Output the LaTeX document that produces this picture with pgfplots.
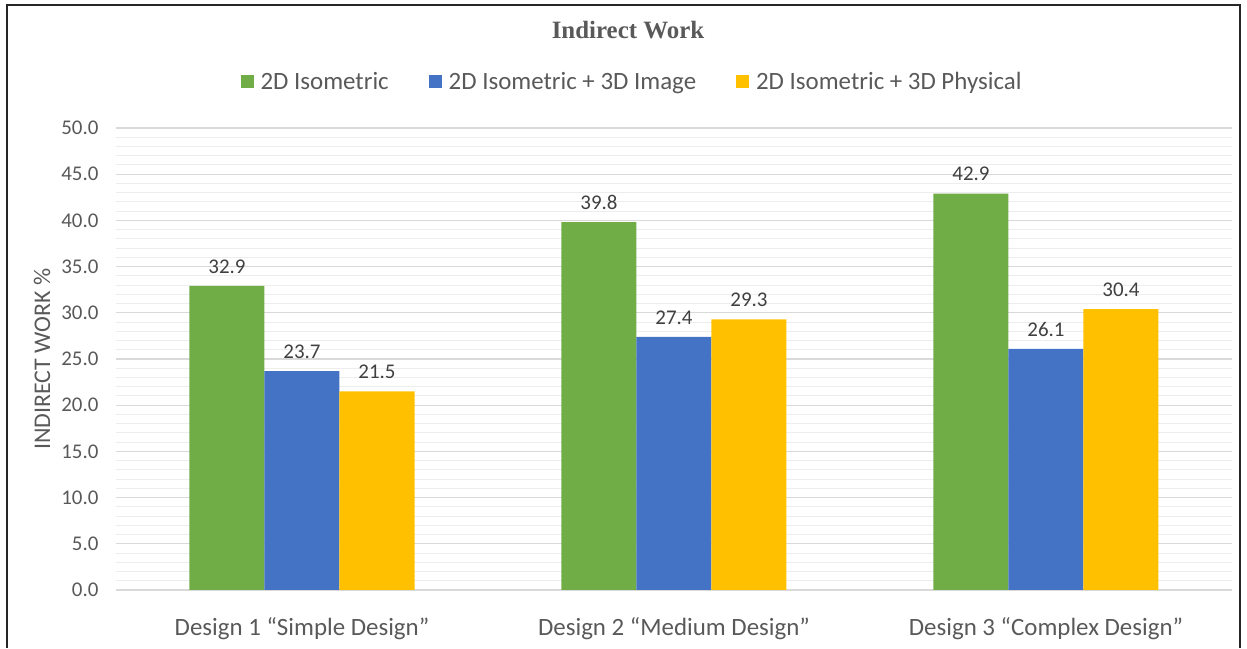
\documentclass[border=0pt]{standalone}
\usepackage{pgfplots}
\pgfplotsset{compat=1.18}
\usepackage{fontspec}
\setmainfont{Carlito}
\newfontfamily\titlefont{Liberation Serif}
\definecolor{cgreen}{HTML}{70AD47}
\definecolor{cblue}{HTML}{4472C4}
\definecolor{cyellow}{HTML}{FFC000}
\definecolor{txt}{HTML}{595959}
\definecolor{majgrid}{HTML}{D9D9D9}
\definecolor{mingrid}{HTML}{EDEDED}
\begin{document}
\begin{tikzpicture}[x=1bp,y=1bp]
\path (0,0) rectangle (1247,648);
\draw[line width=1.3bp,black!85] (7,0) -- (7,643) -- (1240,643) -- (1240,0);
\node[font=\titlefont\fontsize{25}{28}\selectfont\bfseries,text=txt] at (628,618) {Indirect Work};
\begin{axis}[
  at={(116bp,58bp)}, anchor=south west,
  scale only axis, width=1116bp, height=462bp,
  ybar=0pt, bar width=75bp,
  xmin=-0.5, xmax=2.5, ymin=0, ymax=50,
  xtick={0,1,2},
  xticklabels={Design 1 “Simple Design”, Design 2 “Medium Design”, Design 3 “Complex Design”},
  ytick={0,5,...,50},
  minor y tick num=4,
  ymajorgrids, yminorgrids,
  major grid style={majgrid, line width=1.2bp},
  minor grid style={mingrid, line width=1bp},
  major tick length=0pt, minor tick length=0pt,
  axis line style={draw=none},
  yticklabel style={font=\fontsize{21}{24}\selectfont, text=txt, xshift=-14bp,
    /pgf/number format/.cd, fixed, zerofill, precision=1, assume math mode=true},
  xticklabel style={font=\fontsize{25}{28}\selectfont, text=txt, yshift=-24bp},
  ylabel={INDIRECT WORK \%},
  every axis y label/.style={at={(axis description cs:-0.0663,0.5)}, rotate=90, anchor=center},
  ylabel style={font=\fontsize{24}{27}\selectfont, text=txt},
  nodes near coords,
  every node near coord/.append style={font=\fontsize{21}{24}\selectfont, text=black!75, yshift=9bp,
    /pgf/number format/.cd, fixed, zerofill, precision=1, assume math mode=true},
  legend columns=3,
  legend style={at={(0.4624,1.1000)}, anchor=center, draw=none, fill=none,
    font=\fontsize{25}{28}\selectfont, text=txt,
    /tikz/every odd column/.append style={column sep=5bp},
    /tikz/every even column/.append style={column sep=38bp}},
  legend image code/.code={\fill[#1] (0bp,-6.5bp) rectangle (13bp,6.5bp);},
]
\addplot[fill=cgreen, draw=none] coordinates {(0,32.9) (1,39.8) (2,42.9)};
\addplot[fill=cblue, draw=none] coordinates {(0,23.7) (1,27.4) (2,26.1)};
\addplot[fill=cyellow, draw=none] coordinates {(0,21.5) (1,29.3) (2,30.4)};
\legend{2D Isometric, 2D Isometric + 3D Image, 2D Isometric + 3D Physical}
\end{axis}
\end{tikzpicture}
\end{document}
